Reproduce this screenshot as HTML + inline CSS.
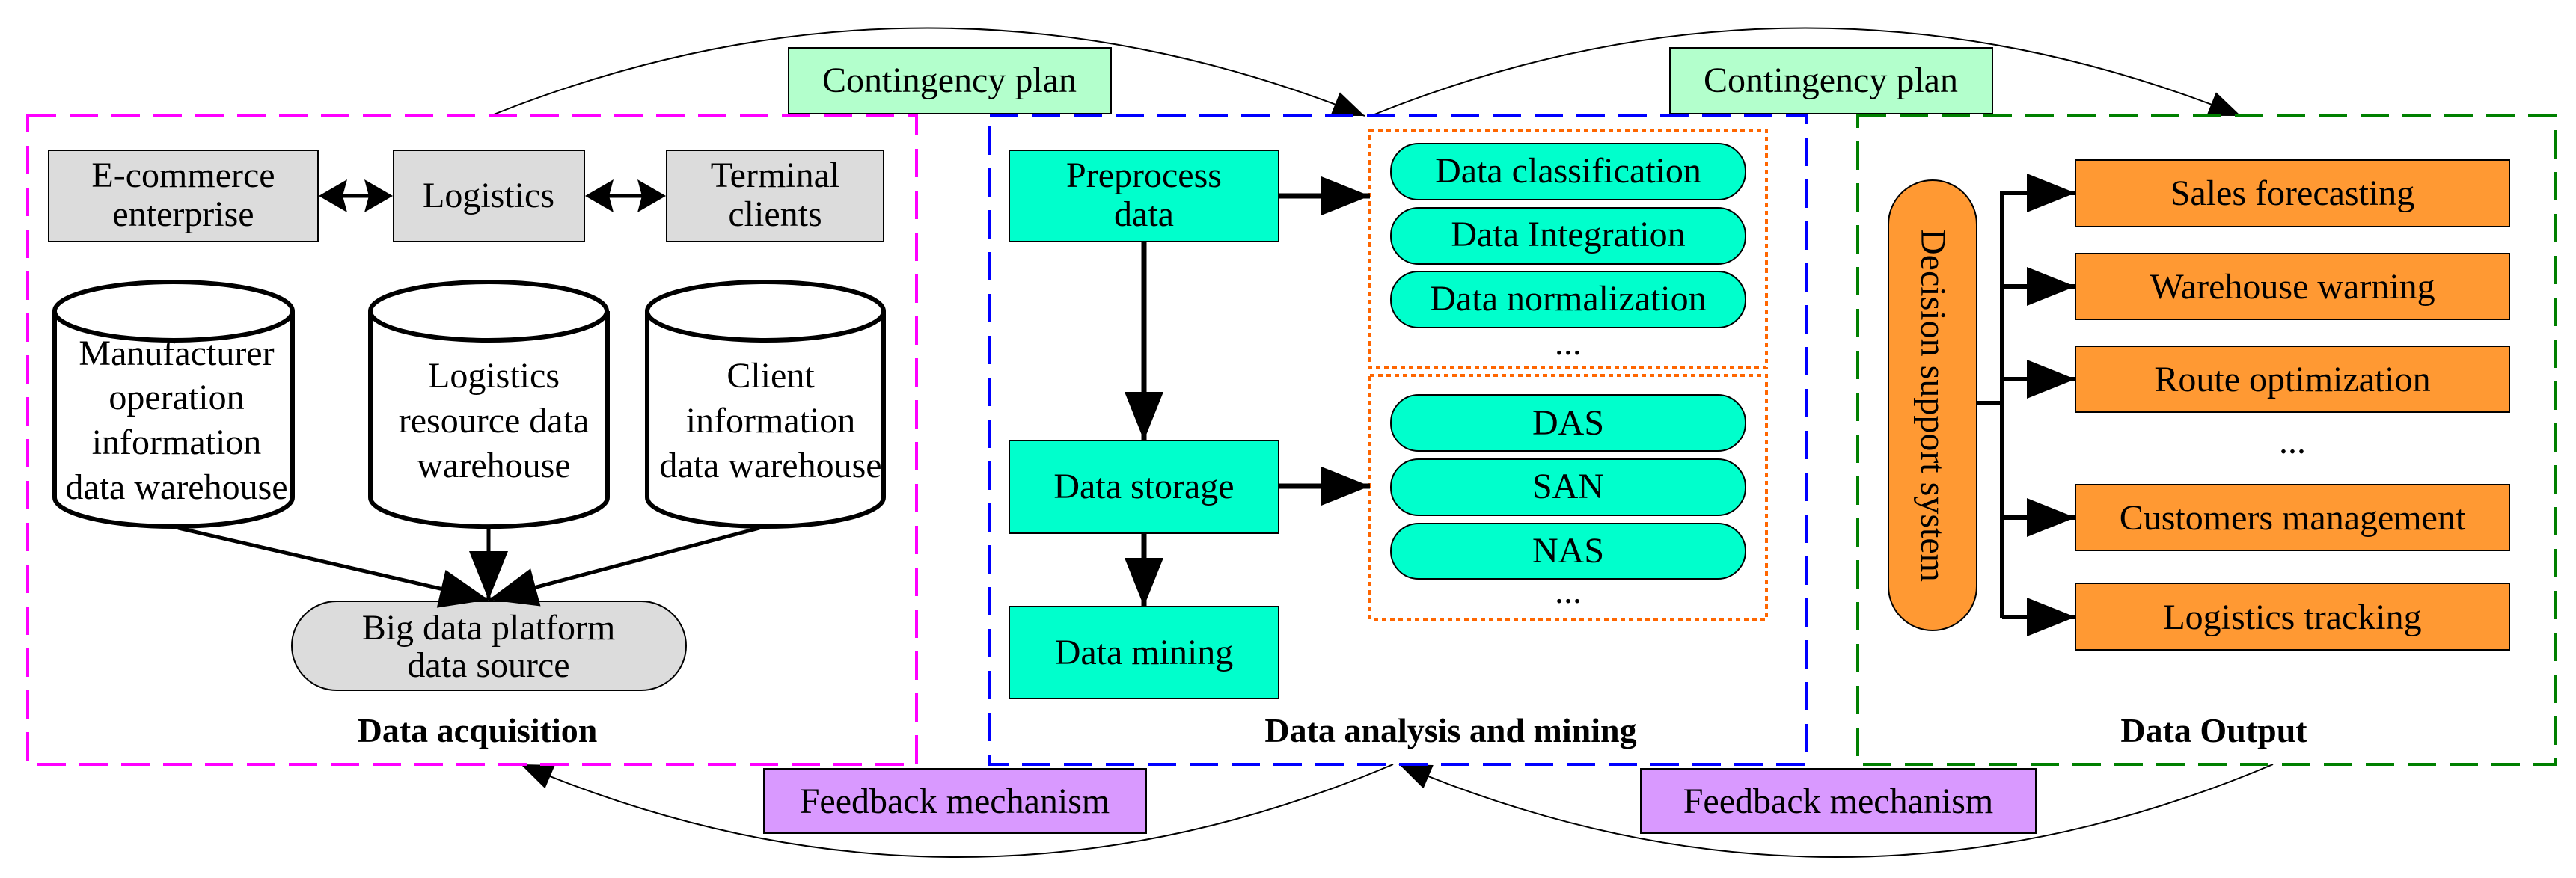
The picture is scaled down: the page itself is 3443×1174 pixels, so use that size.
<!DOCTYPE html>
<html><head><meta charset="utf-8"><style>
html,body{margin:0;padding:0;background:#fff;}
svg{display:block;}
text{font-family:"Liberation Serif","Noto Serif CJK SC","DejaVu Serif",serif;font-size:48px;fill:#000;}
.b{font-weight:bold;font-size:46px;}
</style></head><body>
<svg width="3443" height="1174" viewBox="0 0 3443 1174" xmlns="http://www.w3.org/2000/svg">
<defs>
<marker id="s" viewBox="0 0 10 8" refX="10" refY="4" markerWidth="48" markerHeight="34" orient="auto" markerUnits="userSpaceOnUse"><path d="M0,0 L10,4 L0,8 z" fill="#000"/></marker>
<marker id="m" viewBox="0 0 10 8" refX="10" refY="4" markerWidth="72" markerHeight="52" orient="auto" markerUnits="userSpaceOnUse"><path d="M0,0 L10,4 L0,8 z" fill="#000"/></marker>
</defs>

<g fill="none" stroke="#000" stroke-width="2">
<path d="M655,155 Q1240,-80 1824,155" marker-end="url(#s)"/>
<path d="M1832,155 Q2412,-80 2995,155" marker-end="url(#s)"/>
<path d="M1862,1022 Q1280,1270 696,1022" marker-end="url(#s)"/>
<path d="M3038,1022 Q2454,1270 1870,1022" marker-end="url(#s)"/>
</g>

<rect x="37" y="155" width="1188" height="867" fill="none" stroke="#ff00ff" stroke-width="4" stroke-dasharray="38 18"/>
<rect x="1323" y="155" width="1091" height="867" fill="none" stroke="#0000ff" stroke-width="4" stroke-dasharray="38 18"/>
<rect x="2483" y="155" width="933" height="867" fill="none" stroke="#008000" stroke-width="4" stroke-dasharray="38 18"/>

<rect x="1054" y="64" width="431" height="88" fill="#b3ffcc" stroke="#000" stroke-width="2"/>
<text x="1269" y="123" text-anchor="middle">Contingency plan</text>
<rect x="2232" y="64" width="431" height="88" fill="#b3ffcc" stroke="#000" stroke-width="2"/>
<text x="2447" y="123" text-anchor="middle">Contingency plan</text>
<rect x="1021" y="1028" width="511" height="86" fill="#d999ff" stroke="#000" stroke-width="2"/>
<text x="1276" y="1087" text-anchor="middle">Feedback mechanism</text>
<rect x="2193" y="1028" width="528" height="86" fill="#d999ff" stroke="#000" stroke-width="2"/>
<text x="2457" y="1087" text-anchor="middle">Feedback mechanism</text>

<g stroke="#000" stroke-width="2" fill="#dcdcdc">
<rect x="65" y="201" width="360" height="122"/>
<rect x="526" y="201" width="255" height="122"/>
<rect x="891" y="201" width="290" height="122"/>
<rect x="390" y="804" width="527" height="119" rx="60"/>
</g>
<text x="245" y="250" text-anchor="middle">E-commerce</text>
<text x="245" y="302" text-anchor="middle">enterprise</text>
<text x="653" y="277" text-anchor="middle">Logistics</text>
<text x="1036" y="250" text-anchor="middle">Terminal</text>
<text x="1036" y="302" text-anchor="middle">clients</text>
<g stroke="#000" stroke-width="5">
<line x1="450" y1="262" x2="500" y2="262"/>
<line x1="806" y1="262" x2="866" y2="262"/>
</g>
<g fill="#000">
<polygon points="426,262 464,240 458,262 464,284"/>
<polygon points="525,262 487,240 493,262 487,284"/>
<polygon points="782,262 820,240 814,262 820,284"/>
<polygon points="890,262 852,240 858,262 852,284"/>
</g>
<g stroke="#000" stroke-width="6" fill="#fff">
<path d="M73,416 L73,665 A159,39 0 0 0 391,665 L391,416"/><ellipse cx="232" cy="416" rx="159" ry="39"/>
<path d="M495,416 L495,665 A158,39 0 0 0 812,665 L812,416"/><ellipse cx="653" cy="416" rx="158" ry="39"/>
<path d="M865,416 L865,665 A158,39 0 0 0 1181,665 L1181,416"/><ellipse cx="1023" cy="416" rx="158" ry="39"/>
</g>
<g text-anchor="middle">
<text x="236" y="488">Manufacturer</text>
<text x="236" y="547">operation</text>
<text x="236" y="607">information</text>
<text x="236" y="667">data warehouse</text>
<text x="660" y="518">Logistics</text>
<text x="660" y="578">resource data</text>
<text x="660" y="638">warehouse</text>
<text x="1030" y="518">Client</text>
<text x="1030" y="578">information</text>
<text x="1030" y="638">data warehouse</text>
<text x="653" y="855">Big data platform</text>
<text x="653" y="905">data source</text>
<text x="638" y="992" class="b">Data acquisition</text>
</g>
<g stroke="#000" stroke-width="5" fill="none">
<line x1="238" y1="706" x2="653" y2="802" marker-end="url(#m)"/>
<line x1="653" y1="706" x2="653" y2="802" marker-end="url(#m)"/>
<line x1="1015" y1="706" x2="653" y2="802" marker-end="url(#m)"/>
</g>

<g stroke="#000" stroke-width="2" fill="#00ffcc">
<rect x="1349" y="201" width="360" height="122"/>
<rect x="1349" y="589" width="360" height="124"/>
<rect x="1349" y="811" width="360" height="123"/>
<rect x="1859" y="192" width="474" height="75" rx="37"/>
<rect x="1859" y="278" width="474" height="75" rx="37"/>
<rect x="1859" y="363" width="474" height="75" rx="37"/>
<rect x="1859" y="528" width="474" height="75" rx="37"/>
<rect x="1859" y="614" width="474" height="75" rx="37"/>
<rect x="1859" y="700" width="474" height="74" rx="37"/>
</g>
<g fill="none" stroke="#ff6600" stroke-width="4" stroke-dasharray="6 5">
<rect x="1831" y="174" width="530" height="318"/>
<rect x="1831" y="502" width="530" height="326"/>
</g>
<g text-anchor="middle">
<text x="1529" y="250">Preprocess</text>
<text x="1529" y="302">data</text>
<text x="1529" y="666">Data storage</text>
<text x="1529" y="888">Data mining</text>
<text x="2096" y="244">Data classification</text>
<text x="2096" y="329">Data Integration</text>
<text x="2096" y="415">Data normalization</text>
<text x="2096" y="474">...</text>
<text x="2096" y="581">DAS</text>
<text x="2096" y="666">SAN</text>
<text x="2096" y="752">NAS</text>
<text x="2096" y="806">...</text>
<text x="1939" y="992" class="b">Data analysis and mining</text>
</g>
<g stroke="#000" stroke-width="7" fill="none">
<line x1="1709" y1="262" x2="1831" y2="262" marker-end="url(#m)"/>
<line x1="1709" y1="650" x2="1831" y2="650" marker-end="url(#m)"/>
<line x1="1529" y1="323" x2="1529" y2="589" marker-end="url(#m)"/>
<line x1="1529" y1="713" x2="1529" y2="811" marker-end="url(#m)"/>
</g>

<rect x="2524" y="241" width="118" height="602" rx="59" fill="#ff9933" stroke="#000" stroke-width="2"/>
<text transform="translate(2568,542) rotate(90)" text-anchor="middle">Decision support system</text>
<g stroke="#000" stroke-width="2" fill="#ff9933">
<rect x="2774" y="214" width="580" height="89"/>
<rect x="2774" y="339" width="580" height="88"/>
<rect x="2774" y="463" width="580" height="88"/>
<rect x="2774" y="648" width="580" height="88"/>
<rect x="2774" y="780" width="580" height="89"/>
</g>
<g text-anchor="middle">
<text x="3064" y="274">Sales forecasting</text>
<text x="3064" y="399">Warehouse warning</text>
<text x="3064" y="523">Route optimization</text>
<text x="3064" y="606">...</text>
<text x="3064" y="708">Customers management</text>
<text x="3064" y="841">Logistics tracking</text>
<text x="2959" y="992" class="b">Data Output</text>
</g>
<g stroke="#000" stroke-width="6" fill="none">
<line x1="2642" y1="539" x2="2676" y2="539"/>
<line x1="2676" y1="256" x2="2676" y2="826"/>
<line x1="2676" y1="258" x2="2774" y2="258" marker-end="url(#m)"/>
<line x1="2676" y1="383" x2="2774" y2="383" marker-end="url(#m)"/>
<line x1="2676" y1="507" x2="2774" y2="507" marker-end="url(#m)"/>
<line x1="2676" y1="692" x2="2774" y2="692" marker-end="url(#m)"/>
<line x1="2676" y1="825" x2="2774" y2="825" marker-end="url(#m)"/>
</g>
</svg>
</body></html>
